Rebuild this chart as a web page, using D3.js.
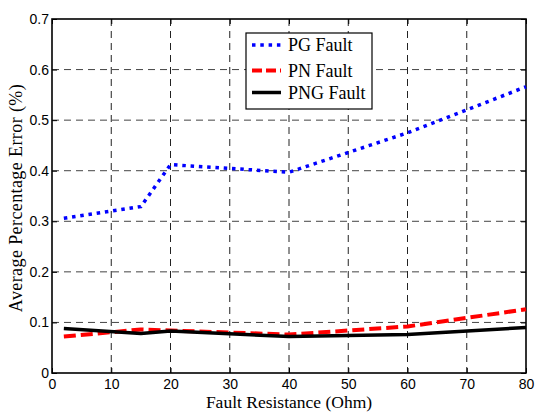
<!DOCTYPE html>
<html><head><meta charset="utf-8">
<script src="https://cdn.jsdelivr.net/npm/d3@7"></script>
<style>body{margin:0;background:#fff}svg{display:block}</style>
</head><body>
<svg id="c" width="535" height="412"></svg>
<script>
const resistance = [2, 15, 20, 40, 60, 80];
const pgFault  = [0.306, 0.329, 0.412, 0.397, 0.475, 0.566];
const pnFault  = [0.072, 0.086, 0.084, 0.076, 0.092, 0.126];
const pngFault = [0.088, 0.078, 0.083, 0.072, 0.076, 0.090];
const xTicks = [0,10,20,30,40,50,60,70,80];
const yTicks = [0,0.1,0.2,0.3,0.4,0.5,0.6,0.7];
const seriesNames = ["PG Fault","PN Fault","PNG Fault"];

const svg = d3.select("#c");
const L=52, R=526, T=19, B=373;
const x = d3.scaleLinear().domain([0,80]).range([L,R]);
const y = d3.scaleLinear().domain([0,0.7]).range([B,T]);
const serif = "'Liberation Serif','Times New Roman',serif";

// grid
const g = svg.append("g");
g.selectAll(".vg").data(xTicks.slice(1,-1)).enter().append("line")
  .attr("x1",d=>x(d)).attr("x2",d=>x(d)).attr("y1",T).attr("y2",B)
  .attr("stroke","#222").attr("stroke-width",1).attr("stroke-dasharray","7,5");
g.selectAll(".hg").data(yTicks.slice(1,-1)).enter().append("line")
  .attr("y1",d=>y(d)).attr("y2",d=>y(d)).attr("x1",L).attr("x2",R)
  .attr("stroke","#444").attr("stroke-width",1).attr("stroke-dasharray","7,5");

// axes with inward ticks
const font = "'Liberation Sans', Arial, sans-serif";
const xAx = svg.append("g").attr("transform",`translate(0,${B})`)
  .call(d3.axisBottom(x).tickValues(xTicks).tickSizeInner(-5).tickSizeOuter(0).tickPadding(6).tickFormat(d3.format("d")));
const yAx = svg.append("g").attr("transform",`translate(${L},0)`)
  .call(d3.axisLeft(y).tickValues(yTicks).tickSizeInner(-5).tickSizeOuter(0).tickPadding(3).tickFormat(d=>d===0?"0":d3.format(".1f")(d)));
svg.append("g").attr("transform",`translate(0,${T})`)
  .call(d3.axisTop(x).tickValues(xTicks).tickSizeInner(-5).tickSizeOuter(0).tickFormat(""));
svg.append("g").attr("transform",`translate(${R},0)`)
  .call(d3.axisRight(y).tickValues(yTicks).tickSizeInner(-5).tickSizeOuter(0).tickFormat(""));
svg.selectAll(".domain").remove();
svg.selectAll(".tick line").attr("stroke","#000");
[xAx,yAx].forEach(a=>a.selectAll("text").attr("font-family",font).attr("font-size",14).attr("fill","#000"));

// box
svg.append("rect").attr("x",L).attr("y",T).attr("width",R-L).attr("height",B-T)
  .attr("fill","none").attr("stroke","#000").attr("stroke-width",1.6);

// lines
const styles = [
  {data:pgFault, color:"#0000ff", w:3.5, dash:"3.5,4.8"},
  {data:pnFault, color:"#ff0000", w:4, dash:"12,5"},
  {data:pngFault, color:"#000000", w:3.5, dash:null}
];
const line = d3.line().x(d=>x(d[0])).y(d=>y(d[1]));
styles.forEach(s=>{
  svg.append("path").datum(resistance.map((r,i)=>[r,s.data[i]]))
    .attr("d",line).attr("fill","none").attr("stroke",s.color)
    .attr("stroke-width",s.w).attr("stroke-dasharray",s.dash).attr("stroke-linejoin","round");
});

// legend
const lg = svg.append("g");
lg.append("rect").attr("x",246).attr("y",33).attr("width",126).attr("height",76)
  .attr("fill","#fff").attr("stroke","#000").attr("stroke-width",1.2);
const rows=[45,70.5,92.5];
styles.forEach((s,i)=>{
  lg.append("line").attr("x1",252).attr("x2",281).attr("y1",rows[i]).attr("y2",rows[i])
    .attr("stroke",s.color).attr("stroke-width",s.w)
    .attr("stroke-dasharray", i===0?"3.5,4.8":(i===1?"10,4":null));
  lg.append("text").attr("x",288).attr("y",rows[i]+6).text(seriesNames[i])
    .attr("font-family",serif).attr("font-size",18).attr("fill","#000");
});

// titles
svg.append("text").attr("x",(L+R)/2).attr("y",408).attr("text-anchor","middle")
  .attr("font-family",serif).attr("font-size",17.5)
  .text("Fault Resistance (Ohm)");
svg.append("text").attr("transform",`translate(22,198) rotate(-90)`).attr("text-anchor","middle")
  .attr("font-family",serif).attr("font-size",18).attr("letter-spacing",0.4)
  .text("Average Percentage Error (%)");
</script>
</body></html>
